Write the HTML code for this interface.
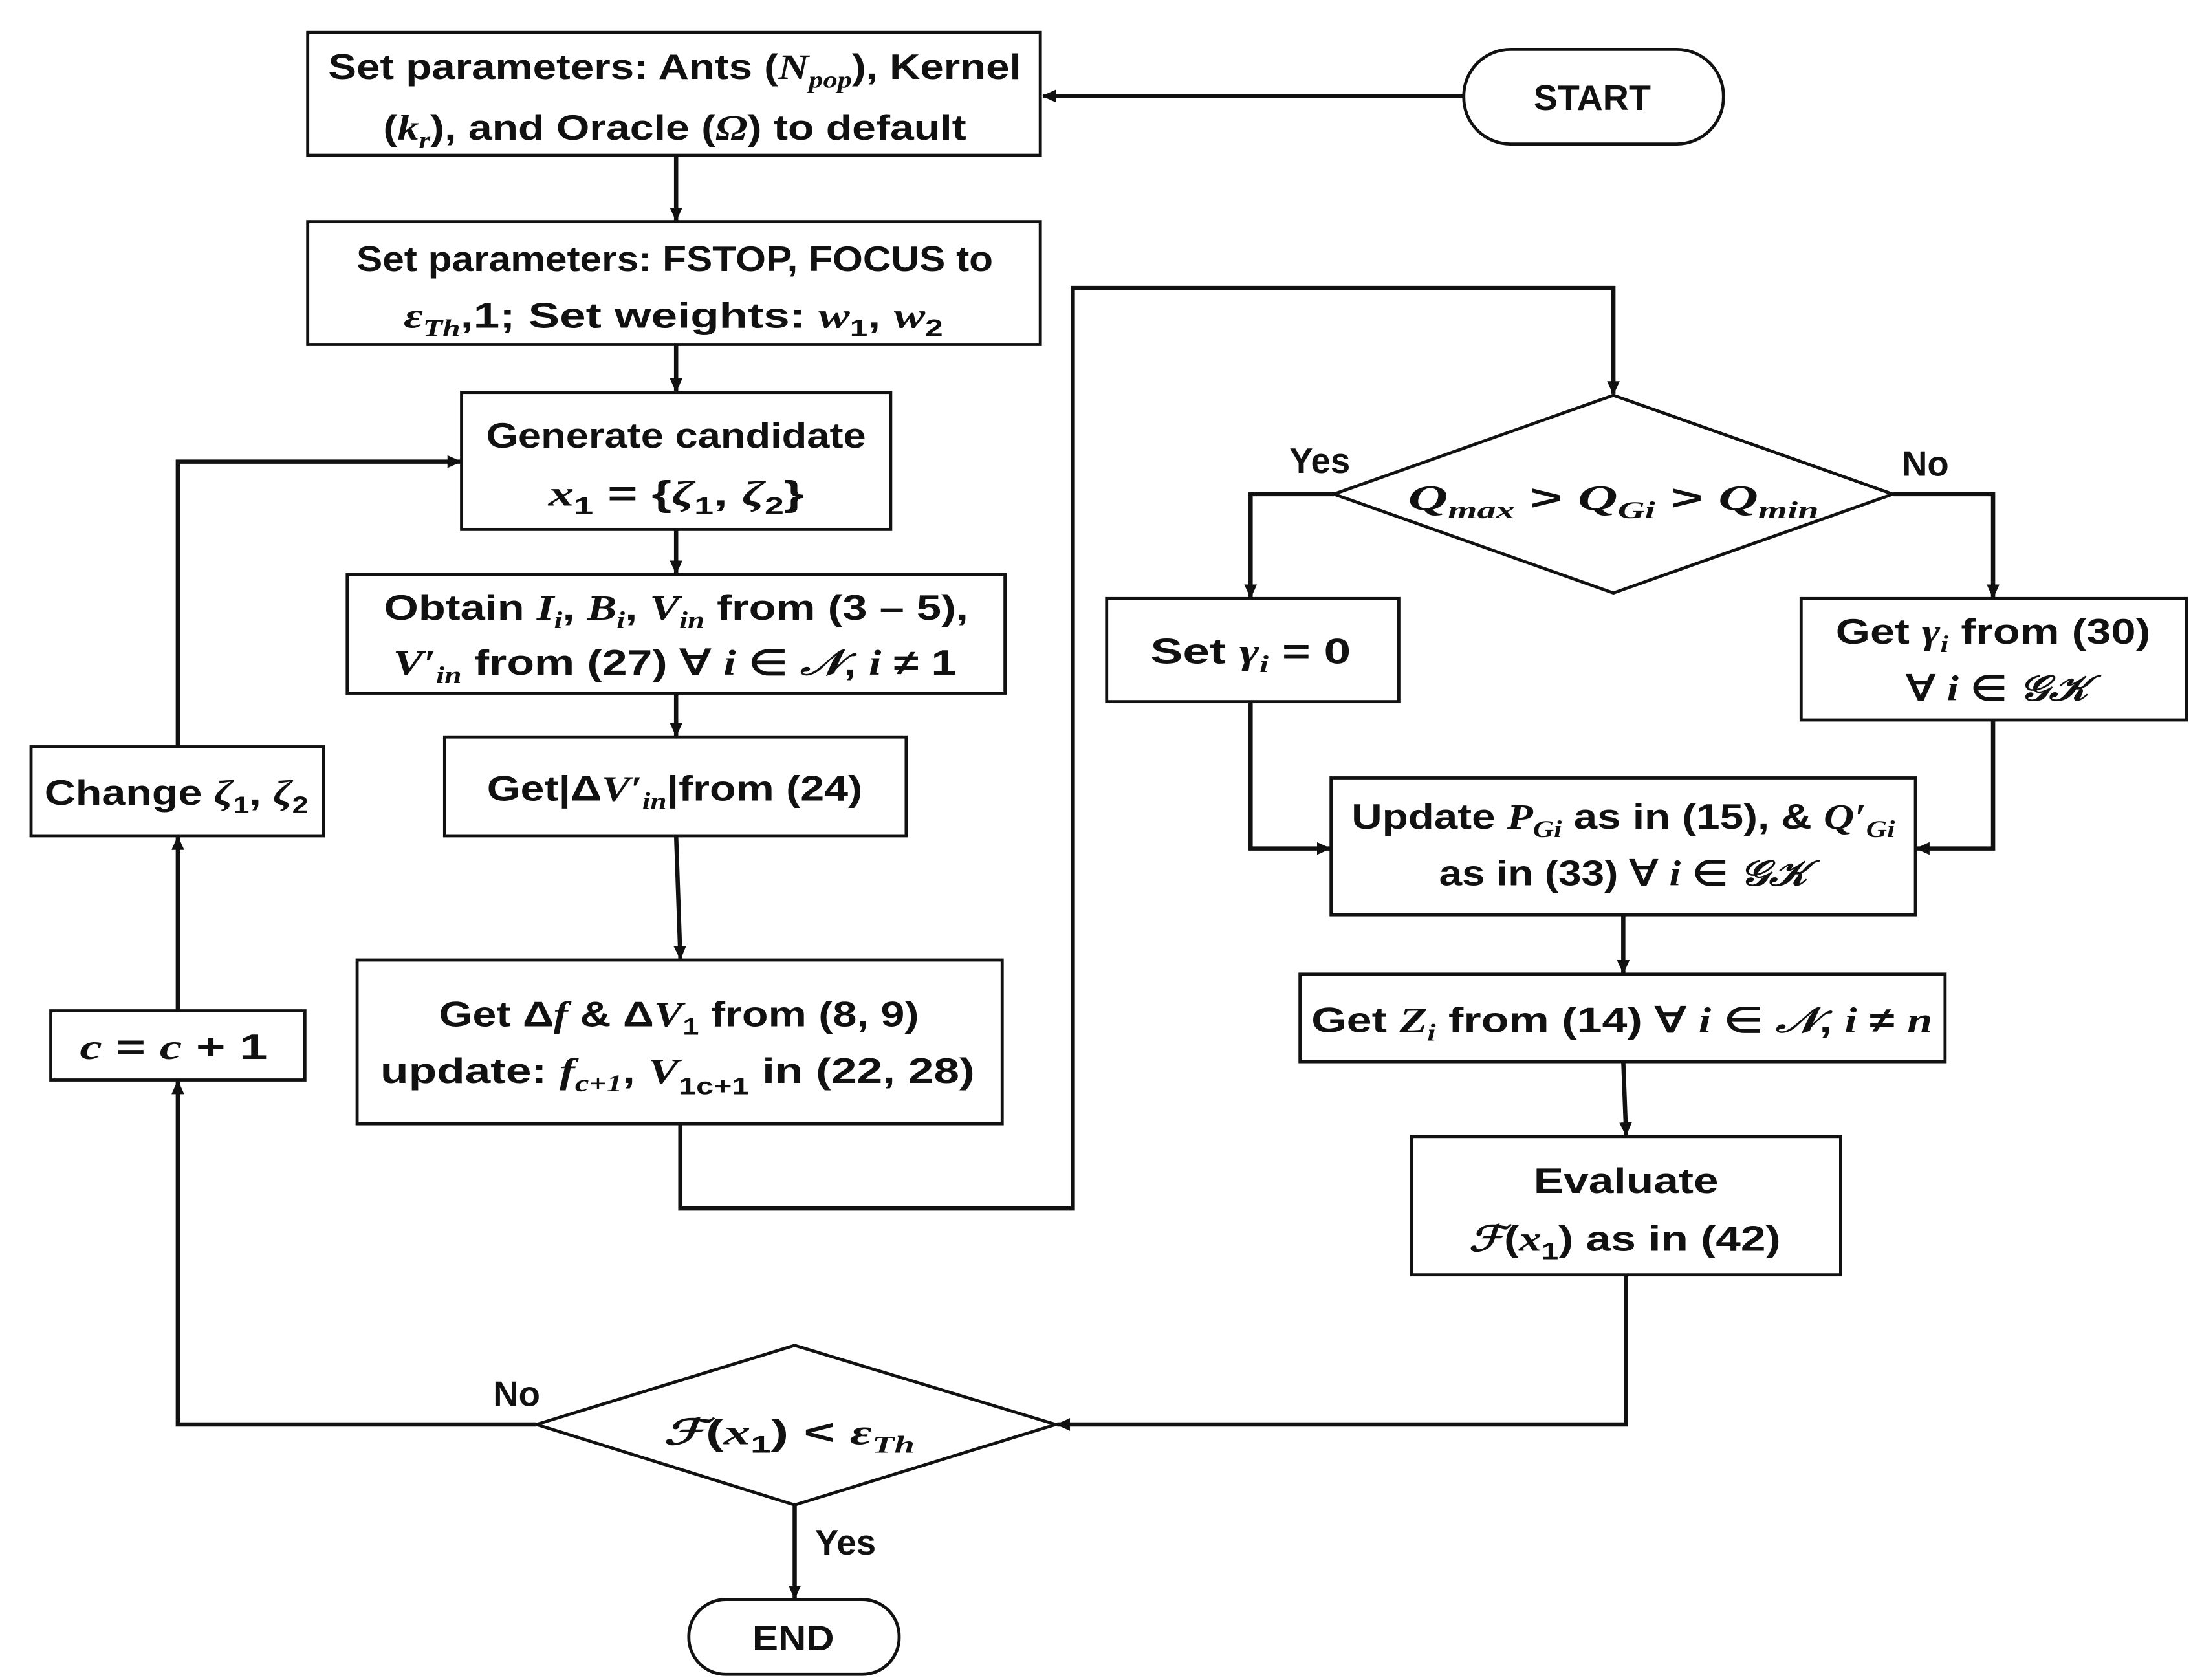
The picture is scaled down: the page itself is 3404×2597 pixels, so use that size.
<!DOCTYPE html>
<html><head><meta charset="utf-8"><style>
html,body{margin:0;padding:0;background:#fff;}
svg{display:block;}
text{font-family:"Liberation Sans",sans-serif;font-weight:bold;font-size:25px;fill:#111;}
.m{font-family:"Liberation Serif",serif;font-style:italic;}
.s{font-size:17px;}
</style></head><body>
<svg width="3404" height="2597" viewBox="0 0 1560 1190" preserveAspectRatio="none" xmlns="http://www.w3.org/2000/svg">
<defs>
<marker id="a" markerWidth="10" markerHeight="10" refX="9" refY="5" orient="auto" markerUnits="userSpaceOnUse">
<path d="M0,0.5 L10,5 L0,9.5 Z" fill="#111"/></marker>
</defs>
<g fill="none" stroke="#111" stroke-width="2.2">
<rect x="218" y="23" width="519" height="87"/>
<rect x="1037" y="35" width="184" height="67" rx="33"/>
<rect x="218" y="157" width="519" height="87"/>
<rect x="327" y="278" width="304" height="97"/>
<rect x="246" y="407" width="466" height="84"/>
<rect x="315" y="522" width="327" height="70"/>
<rect x="253" y="680" width="457" height="116"/>
<polygon points="945,350 1143,280 1341,350 1143,420"/>
<rect x="784" y="424" width="207" height="73"/>
<rect x="1276" y="424" width="273" height="86"/>
<rect x="943" y="551" width="414" height="97"/>
<rect x="921" y="690" width="457" height="62"/>
<rect x="1000" y="805" width="304" height="98"/>
<polygon points="380,1009 563,953 748,1009 563,1066"/>
<rect x="488" y="1133" width="149" height="53" rx="26"/>
<rect x="36" y="716" width="180" height="49"/>
<rect x="22" y="529" width="207" height="63"/>
</g>
<g fill="none" stroke="#111" stroke-width="3">
<path d="M1037,68 L739,68" marker-end="url(#a)"/>
<path d="M479,110 L479,156" marker-end="url(#a)"/>
<path d="M479,244 L479,277" marker-end="url(#a)"/>
<path d="M479,375 L479,406" marker-end="url(#a)"/>
<path d="M479,491 L479,521" marker-end="url(#a)"/>
<path d="M479,592 L482,679" marker-end="url(#a)"/>
<path d="M482,796 L482,856 L760,856 L760,204 L1143,204 L1143,279" marker-end="url(#a)"/>
<path d="M945,350 L886,350 L886,423" marker-end="url(#a)"/>
<path d="M1341,350 L1412,350 L1412,423" marker-end="url(#a)"/>
<path d="M886,497 L886,601 L942,601" marker-end="url(#a)"/>
<path d="M1412,510 L1412,601 L1358,601" marker-end="url(#a)"/>
<path d="M1150,648 L1150,689" marker-end="url(#a)"/>
<path d="M1150,752 L1152,804" marker-end="url(#a)"/>
<path d="M1152,903 L1152,1009 L749,1009" marker-end="url(#a)"/>
<path d="M563,1066 L563,1132" marker-end="url(#a)"/>
<path d="M380,1009 L126,1009 L126,766" marker-end="url(#a)"/>
<path d="M126,716 L126,593" marker-end="url(#a)"/>
<path d="M126,529 L126,327 L326,327" marker-end="url(#a)"/>
</g>
<g text-anchor="middle">
<text x="478" y="56" textLength="491" lengthAdjust="spacingAndGlyphs">Set parameters: Ants (<tspan class="m">N</tspan><tspan class="m s" dy="6">pop</tspan><tspan dy="-6">), Kernel</tspan></text>
<text x="478" y="99" textLength="413" lengthAdjust="spacingAndGlyphs">(<tspan class="m">k</tspan><tspan class="m s" dy="6">r</tspan><tspan dy="-6">), and Oracle (</tspan><tspan class="m">Ω</tspan>) to default</text>
<text x="1128" y="78" textLength="83" lengthAdjust="spacingAndGlyphs">START</text>
<text x="478" y="192" textLength="451" lengthAdjust="spacingAndGlyphs">Set parameters: FSTOP, FOCUS to</text>
<text x="477" y="232" textLength="382" lengthAdjust="spacingAndGlyphs"><tspan class="m">ε</tspan><tspan class="m s" dy="6">Th</tspan><tspan dy="-6">,1; Set weights: </tspan><tspan class="m">w</tspan><tspan class="s" dy="6">1</tspan><tspan dy="-6">, </tspan><tspan class="m">w</tspan><tspan class="s" dy="6">2</tspan></text>
<text x="479" y="317" textLength="269" lengthAdjust="spacingAndGlyphs">Generate candidate</text>
<text x="479" y="358" textLength="181" lengthAdjust="spacingAndGlyphs"><tspan class="m">x</tspan><tspan class="s" dy="6">1</tspan><tspan dy="-6"> = {</tspan><tspan class="m">ζ</tspan><tspan class="s" dy="6">1</tspan><tspan dy="-6">, </tspan><tspan class="m">ζ</tspan><tspan class="s" dy="6">2</tspan><tspan dy="-6">}</tspan></text>
<text x="479" y="439" textLength="414" lengthAdjust="spacingAndGlyphs">Obtain <tspan class="m">I</tspan><tspan class="m s" dy="6">i</tspan><tspan dy="-6">, </tspan><tspan class="m">B</tspan><tspan class="m s" dy="6">i</tspan><tspan dy="-6">, </tspan><tspan class="m">V</tspan><tspan class="m s" dy="6">in</tspan><tspan dy="-6"> from (3 – 5),</tspan></text>
<text x="478" y="478" textLength="399" lengthAdjust="spacingAndGlyphs"><tspan class="m">V′</tspan><tspan class="m s" dy="6">in</tspan><tspan dy="-6"> from (27) ∀ </tspan><tspan class="m">i</tspan> ∈ <tspan class="m">𝒩</tspan>, <tspan class="m">i</tspan> ≠ 1</text>
<text x="478" y="567" textLength="266" lengthAdjust="spacingAndGlyphs">Get|Δ<tspan class="m">V′</tspan><tspan class="m s" dy="6">in</tspan><tspan dy="-6">|from (24)</tspan></text>
<text x="481" y="727" textLength="340" lengthAdjust="spacingAndGlyphs">Get Δ<tspan class="m">f</tspan> &amp; Δ<tspan class="m">V</tspan><tspan class="s" dy="6">1</tspan><tspan dy="-6"> from (8, 9)</tspan></text>
<text x="480" y="767" textLength="421" lengthAdjust="spacingAndGlyphs">update: <tspan class="m">f</tspan><tspan class="m s" dy="6">c+1</tspan><tspan dy="-6">, </tspan><tspan class="m">V</tspan><tspan class="s" dy="8">1c+1</tspan><tspan dy="-8"> in (22, 28)</tspan></text>
<text x="1143" y="361" textLength="291" lengthAdjust="spacingAndGlyphs"><tspan class="m">Q</tspan><tspan class="m s" dy="6">max</tspan><tspan dy="-6"> &gt; </tspan><tspan class="m">Q</tspan><tspan class="m s" dy="6">Gi</tspan><tspan dy="-6"> &gt;  </tspan><tspan class="m">Q</tspan><tspan class="m s" dy="6">min</tspan></text>
<text x="935" y="335" font-size="23">Yes</text>
<text x="1364" y="337" font-size="23">No</text>
<text x="886" y="470" textLength="142" lengthAdjust="spacingAndGlyphs">Set <tspan class="m">γ</tspan><tspan class="m s" dy="6">i</tspan><tspan dy="-6"> = 0</tspan></text>
<text x="1412" y="456" textLength="223" lengthAdjust="spacingAndGlyphs">Get <tspan class="m">γ</tspan><tspan class="m s" dy="6">i</tspan><tspan dy="-6"> from (30)</tspan></text>
<text x="1415" y="496" textLength="129" lengthAdjust="spacingAndGlyphs">∀ <tspan class="m">i</tspan> ∈ <tspan class="m">𝒢𝒦</tspan></text>
<text x="1150" y="587" textLength="385" lengthAdjust="spacingAndGlyphs">Update <tspan class="m">P</tspan><tspan class="m s" dy="6">Gi</tspan><tspan dy="-6"> as in (15), &amp; </tspan><tspan class="m">Q′</tspan><tspan class="m s" dy="6">Gi</tspan></text>
<text x="1150" y="627" textLength="261" lengthAdjust="spacingAndGlyphs">as in (33) ∀ <tspan class="m">i</tspan> ∈ <tspan class="m">𝒢𝒦</tspan></text>
<text x="1149" y="731" textLength="440" lengthAdjust="spacingAndGlyphs">Get <tspan class="m">Z</tspan><tspan class="m s" dy="6">i</tspan><tspan dy="-6"> from (14) ∀ </tspan><tspan class="m">i</tspan> ∈ <tspan class="m">𝒩</tspan>, <tspan class="m">i</tspan> ≠ <tspan class="m">n</tspan></text>
<text x="1152" y="845" textLength="131" lengthAdjust="spacingAndGlyphs">Evaluate</text>
<text x="1151" y="886" textLength="221" lengthAdjust="spacingAndGlyphs"><tspan class="m">ℱ</tspan>(<tspan class="m">x</tspan><tspan class="s" dy="6">1</tspan><tspan dy="-6">) as in (42)</tspan></text>
<text x="559" y="1023" textLength="178" lengthAdjust="spacingAndGlyphs"><tspan class="m">ℱ</tspan>(<tspan class="m">x</tspan><tspan class="s" dy="6">1</tspan><tspan dy="-6">) &lt; </tspan><tspan class="m">ε</tspan><tspan class="m s" dy="6">Th</tspan></text>
<text x="366" y="996" font-size="23">No</text>
<text x="599" y="1101" font-size="23">Yes</text>
<text x="562" y="1169" textLength="58" lengthAdjust="spacingAndGlyphs">END</text>
<text x="125" y="570" textLength="187" lengthAdjust="spacingAndGlyphs">Change <tspan class="m">ζ</tspan><tspan class="s" dy="6">1</tspan><tspan dy="-6">, </tspan><tspan class="m">ζ</tspan><tspan class="s" dy="6">2</tspan></text>
<text x="123" y="750" textLength="133" lengthAdjust="spacingAndGlyphs"><tspan class="m">c</tspan> = <tspan class="m">c</tspan> + 1</text>
</g>
</svg>
</body></html>
